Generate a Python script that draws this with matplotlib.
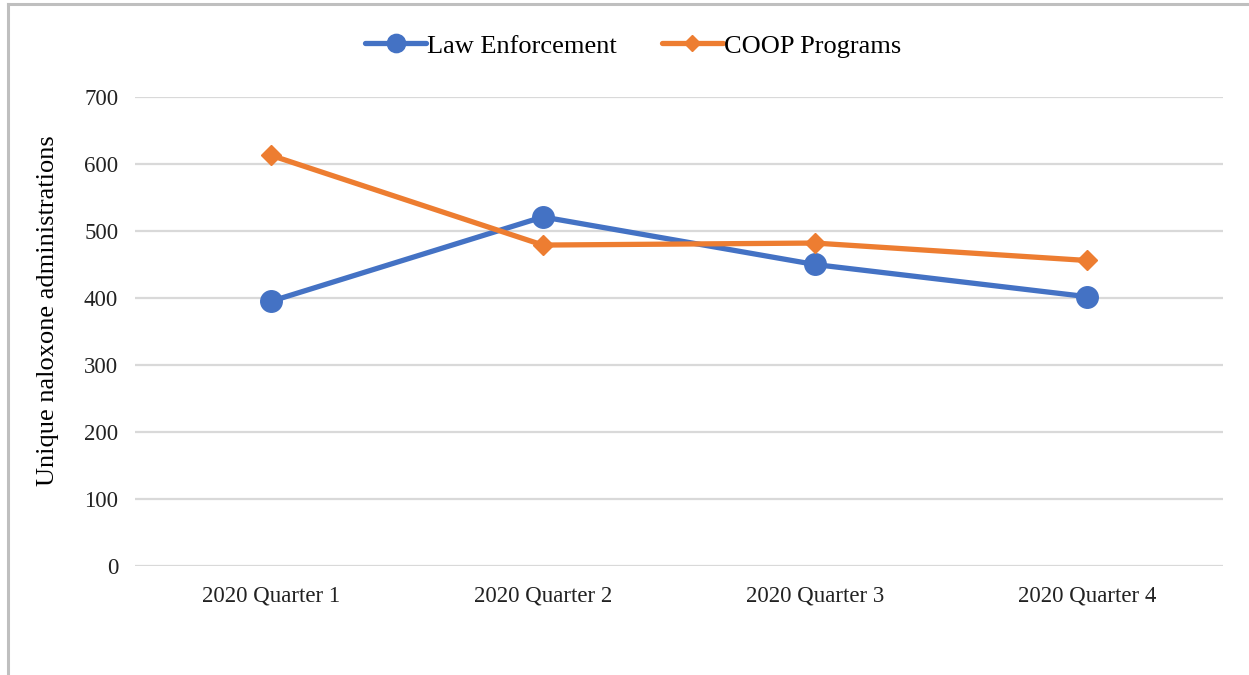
import matplotlib.pyplot as plt
from matplotlib.lines import Line2D

quarters = ["2020 Quarter 1", "2020 Quarter 2", "2020 Quarter 3", "2020 Quarter 4"]
law_enforcement = [395, 521, 450, 402]
coop_programs = [613, 479, 482, 456]

plt.rcParams['font.family'] = ['Liberation Serif', 'DejaVu Serif']

fig = plt.figure(figsize=(12.49, 6.75), dpi=100)
ax = fig.add_axes([0.108, 0.1615, 0.871, 0.6948])

x = range(len(quarters))
ax.plot(x, law_enforcement, color='#4472C4', lw=3.8, marker='o', ms=15.5,
        label='Law Enforcement', solid_capstyle='round', zorder=3)
ax.plot(x, coop_programs, color='#ED7D31', lw=3.8, marker='D', ms=10,
        label='COOP Programs', solid_capstyle='round', zorder=3)

ax.set_xlim(-0.5, 3.5)
ax.set_ylim(0, 700)
ax.set_yticks(range(0, 701, 100))
ax.set_xticks(list(x))
ax.set_xticklabels(quarters)
ax.grid(axis='y', color='#D9D9D9', lw=1.6)
ax.set_axisbelow(True)
for s in ax.spines.values():
    s.set_visible(False)
ax.tick_params(length=0, labelsize=16.5, colors='#222222')
ax.tick_params(axis='y', pad=12)
ax.tick_params(axis='x', pad=14)
ax.set_ylabel('Unique naloxone administrations', fontsize=19)
ax.yaxis.set_label_coords(-0.070, 0.545)

leg = fig.legend(loc='center', bbox_to_anchor=(0.507, 0.932), ncol=2, frameon=False,
                 fontsize=19, handlelength=2.3, columnspacing=1.7, handletextpad=0.05,
                 markerscale=0.85)

# frame left/top border like the screenshot
fig.add_artist(Line2D([0.0062, 0.0062], [0, 0.994], transform=fig.transFigure,
                      color='#BFBFBF', lw=2.2))
fig.add_artist(Line2D([0.0062, 1], [0.994, 0.994], transform=fig.transFigure,
                      color='#BFBFBF', lw=2.2))

fig.savefig('out.png', dpi=100, facecolor='white')
